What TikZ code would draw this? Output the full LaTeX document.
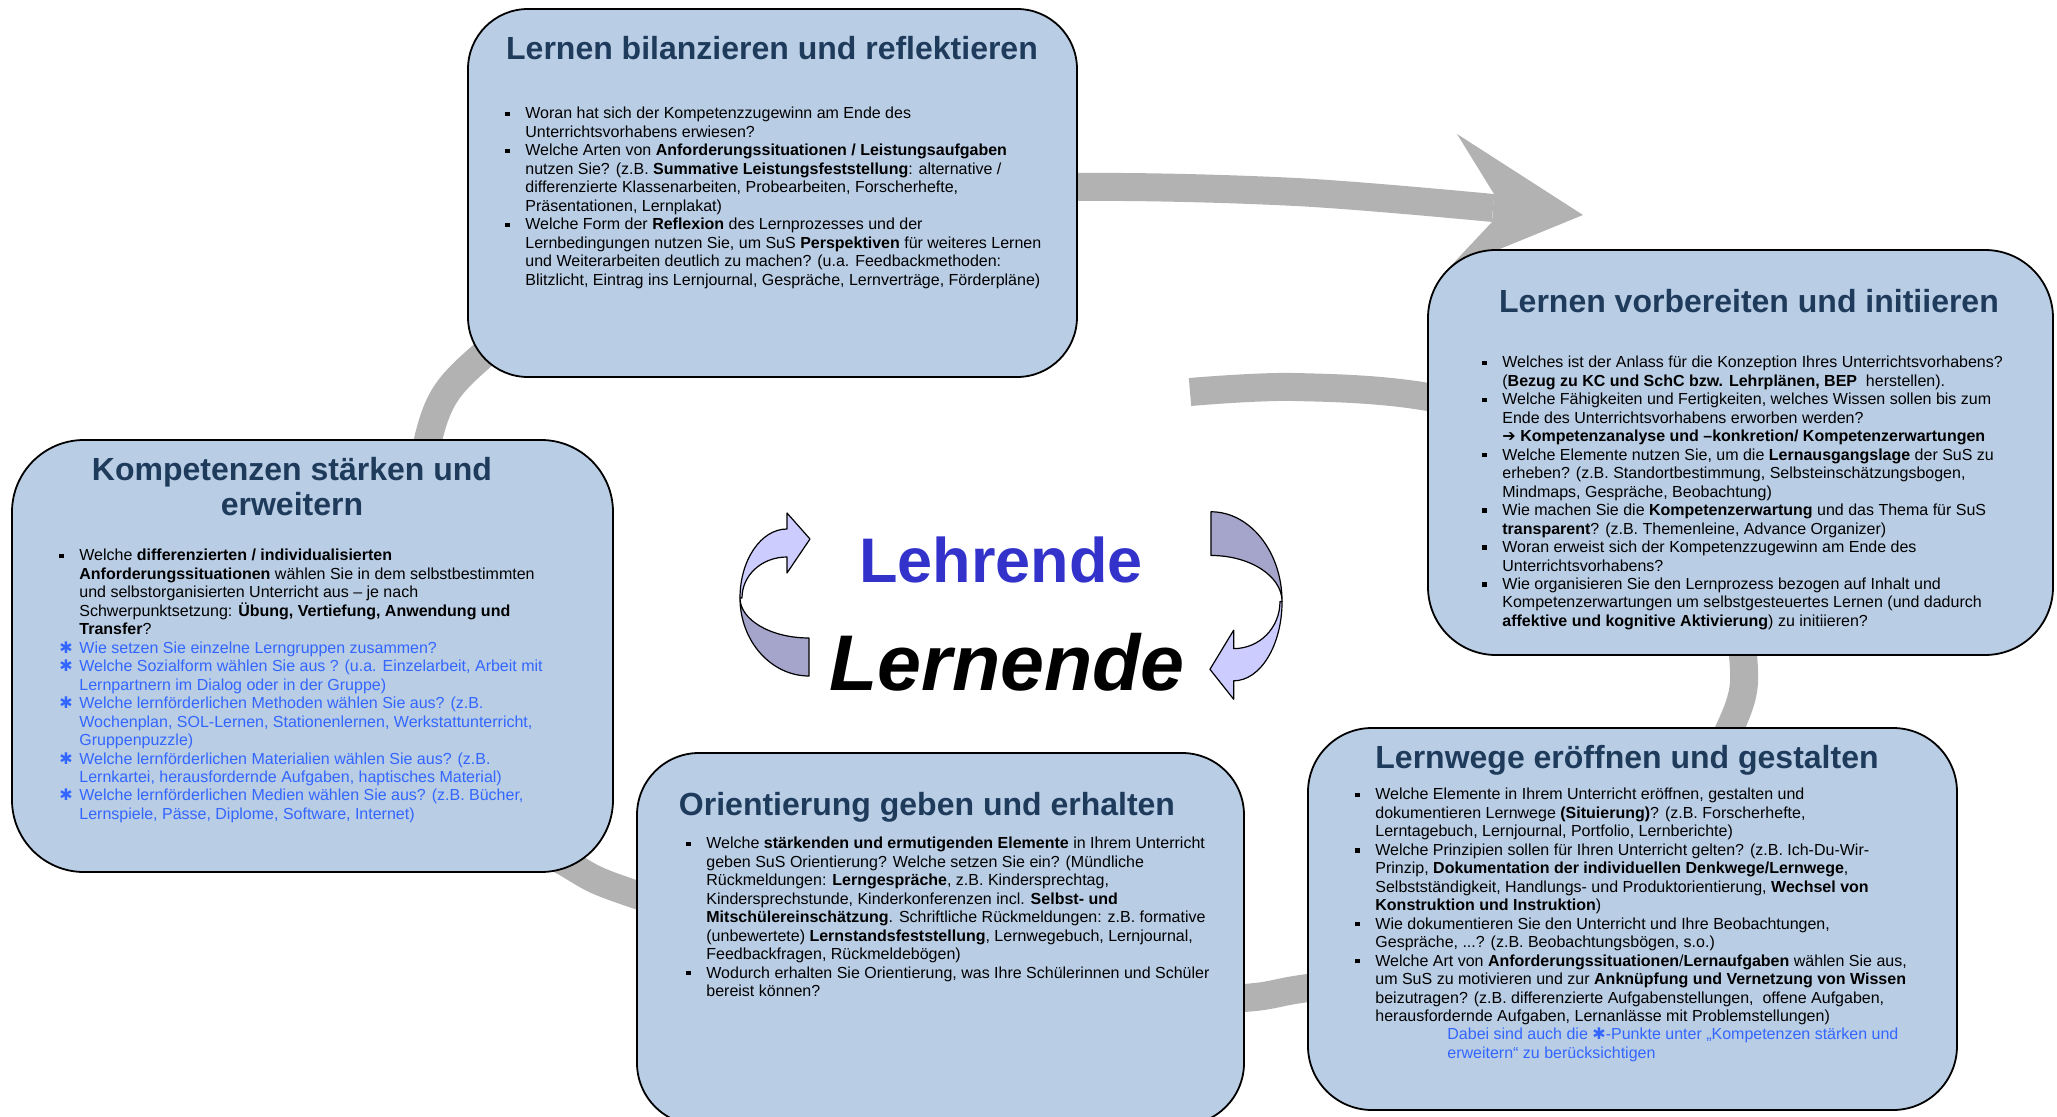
\documentclass[tikz,border=0pt]{standalone}
\usepackage{fontspec}
\setmainfont{Liberation Sans}
\newfontfamily\symfont{DejaVu Sans}
\usepackage{tikz}
\definecolor{boxfill}{HTML}{B9CDE5}
\definecolor{headblue}{HTML}{1F3B5C}
\definecolor{txtblue}{HTML}{3366FF}
\definecolor{ringgray}{HTML}{B2B2B2}
\definecolor{arrlight}{HTML}{CCCCFF}
\definecolor{arrdark}{HTML}{A5A5CC}
\definecolor{lehrblue}{HTML}{3333CC}
\newcommand{\bul}{\makebox[10pt][l]{\raisebox{1.4pt}{\rule{2.2pt}{2.2pt}}}}
\newcommand{\stern}{\makebox[10pt][l]{\textcolor{txtblue}{\symfont\fontsize{8}{8}\selectfont ✱}}}
\newcommand{\ind}{\hspace*{10pt}}
\newcommand{\blu}[1]{\textcolor{txtblue}{#1}}
\tikzstyle{phase}=[rectangle, draw=black, line width=0.9pt, fill=boxfill]
\tikzstyle{head}=[inner sep=0pt, anchor=base, text=headblue, font=\fontsize{16}{18}\selectfont\bfseries]
\tikzstyle{body}=[inner sep=0pt, anchor=north west, align=left, font=\fontsize{8}{9.23}\selectfont]
\tikzstyle{ring}=[draw=ringgray, line width=14pt]
\tikzstyle{twist}=[draw=black, line width=0.6pt, line join=round]
\tikzstyle{centre}=[inner sep=0pt, anchor=base]
\begin{document}
\begin{tikzpicture}[x=0.5pt, y=-0.5pt]
	%The frame
	\useasboundingbox (0,0) rectangle (2057,1117);
	\clip (0,0) rectangle (2057,1117);
	
	%The grey ring
	\draw[ring] plot[smooth, tension=0.55] coordinates {(1190,392) (1293,387) (1428,397) (1600,440) (1715,540) (1743,655) (1730,728) (1640,880) (1460,970) (1308,988) (1244,998) (1100,1003) (850,960) (637,895) (570,865) (480,800) (415,640) (428,440) (483,355) (650,245) (850,196) (1077,187) (1296,192) (1493,208)};
	\fill[ringgray] (1494,194) -- (1457,134) -- (1583,215) -- (1446,271) -- (1492,222) -- cycle;
	
	%The boxes
	\draw (772.5,193) node[phase, minimum width=304.5pt, minimum height=184pt, rounded corners=30pt] (bil) {};
	\draw (1740.5,452.5) node[phase, minimum width=312.5pt, minimum height=202.5pt, rounded corners=34pt] (vor) {};
	\draw (1632.5,919) node[phase, minimum width=324.5pt, minimum height=191pt, rounded corners=32pt] (weg) {};
	\draw (940.5,939) node[phase, minimum width=303.5pt, minimum height=186pt, rounded corners=31pt] (ori) {};
	\draw (312.5,656) node[phase, minimum width=300.5pt, minimum height=216pt, rounded corners=36pt] (komp) {};
	
	%The headings
	\draw (772,60) node[head] (bilH) {Lernen bilanzieren und reflektieren};
	\draw (1749,313) node[head] (vorH) {Lernen vorbereiten und initiieren};
	\draw (1627,768) node[head] (wegH) {Lernwege eröffnen und gestalten};
	\draw (927,815) node[head] (oriH) {Orientierung geben und erhalten};
	\draw (292,481) node[head] (kompH) {Kompetenzen stärken und};
	\draw (292,516) node[head] (kompHb) {erweitern};
	
	%The questions
	\draw (505,107) node[body] (bilT) {\bul Woran hat sich der Kompetenzzugewinn am Ende des\\
		\ind Unterrichtsvorhabens erwiesen?\\
		\bul Welche Arten von \textbf{Anforderungssituationen / Leistungsaufgaben}\\
		\ind nutzen Sie? (z.B. \textbf{Summative Leistungsfeststellung}: alternative /\\
		\ind differenzierte Klassenarbeiten, Probearbeiten, Forscherhefte,\\
		\ind Präsentationen, Lernplakat)\\
		\bul Welche Form der \textbf{Reflexion} des Lernprozesses und der\\
		\ind Lernbedingungen nutzen Sie, um SuS \textbf{Perspektiven} für weiteres Lernen\\
		\ind und Weiterarbeiten deutlich zu machen? (u.a. Feedbackmethoden:\\
		\ind Blitzlicht, Eintrag ins Lernjournal, Gespräche, Lernverträge, Förderpläne)};
	
	\draw (1482,356) node[body] (vorT) {\bul Welches ist der Anlass für die Konzeption Ihres Unterrichtsvorhabens?\\
		\ind (\textbf{Bezug zu KC und SchC bzw. Lehrplänen, BEP}\ \ herstellen).\\
		\bul Welche Fähigkeiten und Fertigkeiten, welches Wissen sollen bis zum\\
		\ind Ende des Unterrichtsvorhabens erworben werden?\\
		\ind {\symfont\bfseries ➔} \textbf{Kompetenzanalyse und –konkretion/ Kompetenzerwartungen}\\
		\bul Welche Elemente nutzen Sie, um die \textbf{Lernausgangslage} der SuS zu\\
		\ind erheben? (z.B. Standortbestimmung, Selbsteinschätzungsbogen,\\
		\ind Mindmaps, Gespräche, Beobachtung)\\
		\bul Wie machen Sie die \textbf{Kompetenzerwartung} und das Thema für SuS\\
		\ind \textbf{transparent}? (z.B. Themenleine, Advance Organizer)\\
		\bul Woran erweist sich der Kompetenzzugewinn am Ende des\\
		\ind Unterrichtsvorhabens?\\
		\bul Wie organisieren Sie den Lernprozess bezogen auf Inhalt und\\
		\ind Kompetenzerwartungen um selbstgesteuertes Lernen (und dadurch\\
		\ind \textbf{affektive und kognitive Aktivierung}) zu initiieren?};
	
	\draw (1355,788) node[body] (wegT) {\bul Welche Elemente in Ihrem Unterricht eröffnen, gestalten und\\
		\ind dokumentieren Lernwege \textbf{(Situierung)}? (z.B. Forscherhefte,\\
		\ind Lerntagebuch, Lernjournal, Portfolio, Lernberichte)\\
		\bul Welche Prinzipien sollen für Ihren Unterricht gelten? (z.B. Ich-Du-Wir-\\
		\ind Prinzip, \textbf{Dokumentation der individuellen Denkwege/Lernwege},\\
		\ind Selbstständigkeit, Handlungs- und Produktorientierung, \textbf{Wechsel von}\\
		\ind \textbf{Konstruktion und Instruktion})\\
		\bul Wie dokumentieren Sie den Unterricht und Ihre Beobachtungen,\\
		\ind Gespräche, ...? (z.B. Beobachtungsbögen, s.o.)\\
		\bul Welche Art von \textbf{Anforderungssituationen}/\textbf{Lernaufgaben} wählen Sie aus,\\
		\ind um SuS zu motivieren und zur \textbf{Anknüpfung und Vernetzung von Wissen}\\
		\ind beizutragen? (z.B. differenzierte Aufgabenstellungen,\ \ offene Aufgaben,\\
		\ind herausfordernde Aufgaben, Lernanlässe mit Problemstellungen)\\
		\hspace*{46pt}\blu{Dabei sind auch die {\symfont\fontsize{8}{8}\selectfont ✱}-Punkte unter „Kompetenzen stärken und}\\
		\hspace*{46pt}\blu{erweitern“ zu berücksichtigen}};
	
	\draw (686,837) node[body] (oriT) {\bul Welche \textbf{stärkenden und ermutigenden Elemente} in Ihrem Unterricht\\
		\ind geben SuS Orientierung? Welche setzen Sie ein? (Mündliche\\
		\ind Rückmeldungen: \textbf{Lerngespräche}, z.B. Kindersprechtag,\\
		\ind Kindersprechstunde, Kinderkonferenzen incl. \textbf{Selbst- und}\\
		\ind \textbf{Mitschülereinschätzung}. Schriftliche Rückmeldungen: z.B. formative\\
		\ind (unbewertete) \textbf{Lernstandsfeststellung}, Lernwegebuch, Lernjournal,\\
		\ind Feedbackfragen, Rückmeldebögen)\\
		\bul Wodurch erhalten Sie Orientierung, was Ihre Schülerinnen und Schüler\\
		\ind bereist können?};
	
	\draw (59,549) node[body] (kompT) {\bul Welche \textbf{differenzierten / individualisierten}\\
		\ind \textbf{Anforderungssituationen} wählen Sie in dem selbstbestimmten\\
		\ind und selbstorganisierten Unterricht aus – je nach\\
		\ind Schwerpunktsetzung: \textbf{Übung, Vertiefung, Anwendung und}\\
		\ind \textbf{Transfer}?\\
		\stern\blu{Wie setzen Sie einzelne Lerngruppen zusammen?}\\
		\stern\blu{Welche Sozialform wählen Sie aus ? (u.a. Einzelarbeit, Arbeit mit}\\
		\ind \blu{Lernpartnern im Dialog oder in der Gruppe)}\\
		\stern\blu{Welche lernförderlichen Methoden wählen Sie aus? (z.B.}\\
		\ind \blu{Wochenplan, SOL-Lernen, Stationenlernen, Werkstattunterricht,}\\
		\ind \blu{Gruppenpuzzle)}\\
		\stern\blu{Welche lernförderlichen Materialien wählen Sie aus? (z.B.}\\
		\ind \blu{Lernkartei, herausfordernde Aufgaben, haptisches Material)}\\
		\stern\blu{Welche lernförderlichen Medien wählen Sie aus? (z.B. Bücher,}\\
		\ind \blu{Lernspiele, Pässe, Diplome, Software, Internet)}};
	
	%The middle
	\draw (1001,582) node[centre, text=lehrblue, font=\fontsize{31.5}{32}\selectfont\bfseries] (lehr) {Lehrende};
	\draw (1007,690) node[centre, font=\fontsize{39.5}{40}\selectfont\bfseries\itshape] (lern) {Lernende};
	
	%The small turning arrows
	\filldraw[twist, fill=arrdark] (740,598) .. controls (740,641) and (771,676) .. (809,676) -- (809,638) .. controls (771,638) and (740,620) .. (740,598) -- cycle;
	\filldraw[twist, fill=arrlight] (740,598) .. controls (740,560) and (761,529) .. (787,529) -- (787,513) -- (810,539) -- (787,573) -- (787,557) .. controls (762,557) and (742,575) .. (742,598) -- cycle;
	\begin{scope}[shift={(1246,605.5)}, xscale=-1.03, yscale=-1.15, shift={(-775,-594.5)}]
		\filldraw[twist, fill=arrdark] (740,598) .. controls (740,641) and (771,676) .. (809,676) -- (809,638) .. controls (771,638) and (740,620) .. (740,598) -- cycle;
		\filldraw[twist, fill=arrlight] (740,598) .. controls (740,560) and (761,529) .. (787,529) -- (787,513) -- (810,539) -- (787,573) -- (787,557) .. controls (762,557) and (742,575) .. (742,598) -- cycle;
	\end{scope}
\end{tikzpicture}
\end{document}
